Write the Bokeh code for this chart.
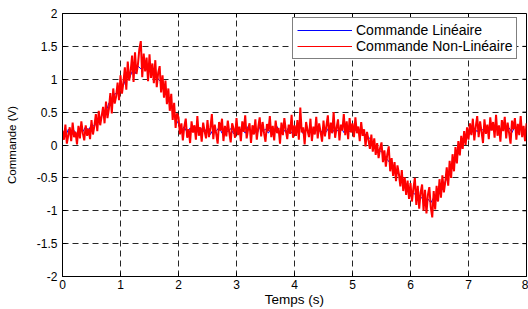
import numpy as np
from bokeh.plotting import figure
from bokeh.models import Range1d, FixedTicker, Legend, LegendItem
from bokeh.embed import file_html
from bokeh.resources import INLINE

# ---- data ----
x_ticks = [0, 1, 2, 3, 4, 5, 6, 7, 8]
y_ticks = [-2, -1.5, -1, -0.5, 0, 0.5, 1, 1.5, 2]
y_tick_labels = {-2: "-2", -1.5: "-1.5", -1: "-1", -0.5: "-0.5", 0: "0",
                 0.5: "0.5", 1: "1", 1.5: "1.5", 2: "2"}

# Commande Non-Linéaire (red), sampled every 0.025 s from 0 to 8 s
red_values = [
    0.22, 0.08, 0.31, 0.02, 0.15, 0.27, 0.06, 0.34, 0.12, 0.20, 0.01, 0.29, 0.10, 0.36, 0.18, 0.07, 0.30, 0.14, 0.25, 0.09,
    0.38, 0.16, 0.29, 0.47, 0.21, 0.52, 0.30, 0.44, 0.58, 0.33, 0.66, 0.41, 0.55, 0.79, 0.48, 0.86, 0.63, 0.74, 0.95, 0.68,
    1.06, 0.78, 0.95, 1.18, 0.84, 1.27, 0.98, 1.12, 1.36, 0.96, 1.41, 1.08, 1.22, 1.46, 1.58, 1.03, 1.39, 1.12, 1.33, 0.97,
    1.38, 1.02, 1.24, 0.94, 1.29, 0.88, 1.10, 1.20, 0.80, 1.06, 0.72, 0.98, 0.62, 0.86, 0.52, 0.78, 0.38, 0.64, 0.26, 0.48,
    0.42, 0.16, 0.33, 0.07, 0.28, 0.40, 0.11, 0.24, 0.03, 0.36, 0.19, 0.30, 0.08, 0.44, 0.14, 0.27, 0.05, 0.34, 0.21, 0.10,
    0.38, 0.12, 0.26, 0.47, 0.09, 0.31, 0.17, 0.02, 0.35, 0.22, 0.40, 0.06, 0.29, 0.13, 0.37, 0.19, 0.04, 0.33, 0.25, 0.11,
    0.41, 0.15, 0.28, 0.06, 0.36, 0.20, 0.45, 0.10, 0.24, 0.33, 0.03, 0.30, 0.16, 0.39, 0.08, 0.27, 0.42, 0.13, 0.35, 0.18,
    0.05, 0.32, 0.21, 0.44, 0.12, 0.29, 0.07, 0.37, 0.18, 0.26, 0.02, 0.34, 0.15, 0.41, 0.23, 0.09, 0.31, 0.17, 0.46, 0.11,
    0.30, 0.14, 0.38, 0.08, 0.57, 0.19, 0.27, 0.01, 0.35, 0.22, 0.12, 0.40, 0.06, 0.28, 0.16, 0.43, 0.10, 0.33, 0.20, 0.05,
    0.37, 0.13, 0.29, 0.45, 0.09, 0.34, 0.18, 0.50, 0.11, 0.26, 0.39, 0.07, 0.31, 0.22, 0.47, 0.15, 0.36, 0.09, 0.41, 0.19,
    0.33, 0.12, 0.42, 0.18, 0.28, 0.06, 0.35, 0.14, 0.24, -0.02, 0.20, 0.08, -0.06, 0.16, -0.10, 0.10, -0.15, 0.03, -0.20, -0.05,
    0.04, -0.26, -0.08, -0.33, -0.14, -0.02, -0.40, -0.20, -0.47, -0.26, -0.55, -0.31, -0.44, -0.63, -0.38, -0.70, -0.49, -0.76, -0.54, -0.82,
    -0.58, -0.86, -0.66, -0.50, -0.91, -0.62, -0.97, -0.72, -0.60, -1.00, -0.68, -1.04, -0.76, -0.64, -0.95, -1.10, -0.70, -0.98, -0.62, -0.86,
    -0.52, -0.80, -0.46, -0.72, -0.56, -0.34, -0.62, -0.24, -0.50, -0.14, -0.40, -0.03, -0.28, 0.06, -0.16, 0.14, -0.06, 0.21, 0.00, 0.27,
    0.08, 0.33, 0.15, 0.40, 0.07, 0.28, 0.44, 0.12, 0.36, 0.20, 0.03, 0.39, 0.17, 0.31, 0.09, 0.42, 0.22, 0.35, 0.11, 0.46,
    0.14, 0.30, 0.05, 0.38, 0.21, 0.43, 0.10, 0.34, 0.18, 0.02, 0.37, 0.24, 0.41, 0.08, 0.32, 0.15, 0.44, 0.12, 0.29, 0.06,
    0.33,
]

# Commande Linéaire (blue), sampled every 0.05 s from 0 to 8 s
blue_values = [
    0.20, 0.12, 0.24, 0.14, 0.22, 0.16, 0.26, 0.20, 0.28, 0.22, 0.32, 0.28, 0.40, 0.38, 0.52, 0.50, 0.64, 0.64, 0.78, 0.78,
    0.92, 0.90, 1.04, 1.00, 1.12, 1.08, 1.20, 1.16, 1.24, 1.20, 1.22, 1.12, 1.12, 1.00, 0.96, 0.84, 0.76, 0.62, 0.55, 0.40,
    0.32, 0.22, 0.28, 0.18, 0.26, 0.20, 0.27, 0.17, 0.25, 0.19, 0.28, 0.16, 0.24, 0.21, 0.27, 0.18, 0.26, 0.20, 0.25, 0.17,
    0.27, 0.19, 0.24, 0.18, 0.28, 0.20, 0.25, 0.16, 0.27, 0.21, 0.24, 0.18, 0.26, 0.20, 0.28, 0.17, 0.25, 0.19, 0.27, 0.18,
    0.24, 0.20, 0.28, 0.17, 0.26, 0.21, 0.25, 0.18, 0.27, 0.19, 0.24, 0.20, 0.28, 0.18, 0.26, 0.21, 0.27, 0.19, 0.28, 0.20,
    0.26, 0.22, 0.24, 0.20, 0.18, 0.14, 0.10, 0.04, -0.02, -0.08, -0.10, -0.16, -0.22, -0.28, -0.34, -0.40, -0.46, -0.52, -0.56, -0.62,
    -0.68, -0.74, -0.75, -0.82, -0.80, -0.86, -0.82, -0.88, -0.80, -0.84, -0.72, -0.68, -0.55, -0.50, -0.36, -0.30, -0.16, -0.10, 0.02, 0.06,
    0.16, 0.18, 0.26, 0.20, 0.28, 0.22, 0.26, 0.19, 0.28, 0.21, 0.25, 0.20, 0.27, 0.22, 0.26, 0.19, 0.28, 0.21, 0.25, 0.20,
    0.24,
]

t_start, t_end = 0, 8
red_t = np.linspace(t_start, t_end, len(red_values))
blue_t = np.linspace(t_start, t_end, len(blue_values))

FONT = "Liberation Sans"

p = figure(width=528, height=309, output_backend="svg", toolbar_location=None,
           x_range=Range1d(0, 8), y_range=Range1d(-2, 2),
           min_border_left=62, min_border_right=2, min_border_top=13, min_border_bottom=32)

p.background_fill_color = "white"
p.border_fill_color = "white"
p.outline_line_color = "black"
p.outline_line_width = 1

# grid
for g in (p.xgrid[0], p.ygrid[0]):
    g.grid_line_color = "black"
    g.grid_line_dash = "6 4"
    g.grid_line_width = 1
    g.grid_line_alpha = 0.85

p.line(blue_t, blue_values, line_color="#0000FF", line_width=1)
p.line(red_t, red_values, line_color="#FF0000", line_width=2)

# mirror ticks on the top and right edges of the box (inward)
p.ray(x=x_ticks, y=[2] * len(x_ticks), length=4, length_units="screen",
      angle=-np.pi / 2, line_color="black", line_width=1)
p.ray(x=[8] * len(y_ticks), y=y_ticks, length=4, length_units="screen",
      angle=np.pi, line_color="black", line_width=1)

# axes
p.xaxis.ticker = FixedTicker(ticks=x_ticks)
p.yaxis.ticker = FixedTicker(ticks=y_ticks)
p.yaxis.major_label_overrides = y_tick_labels
for ax in (p.xaxis[0], p.yaxis[0]):
    ax.axis_line_color = "black"
    ax.major_tick_line_color = "black"
    ax.major_tick_in = 4
    ax.major_tick_out = 0
    ax.minor_tick_line_color = None
    ax.major_label_text_font = FONT
    ax.major_label_text_font_size = "12px"
    ax.major_label_text_color = "black"
    ax.axis_label_text_font = FONT
    ax.axis_label_text_font_style = "normal"
    ax.axis_label_text_color = "black"

p.xaxis.axis_label = "Temps (s)"
p.xaxis.axis_label_text_font_size = "13.5px"
p.xaxis.major_label_standoff = 3
p.xaxis.axis_label_standoff = 0

p.yaxis.axis_label = "Commande (V)"
p.yaxis.axis_label_text_font_size = "11.5px"
p.yaxis.major_label_standoff = 5
p.yaxis.axis_label_standoff = 16

# legend with thin sample lines (renderers kept outside the visible x range)
leg_x = [-10, -9]
leg_y = [0, 0]
leg_blue = p.line(leg_x, leg_y, line_color="#0000FF", line_width=1)
leg_red = p.line(leg_x, leg_y, line_color="#FF0000", line_width=1)
legend = Legend(items=[LegendItem(label="Commande Linéaire", renderers=[leg_blue]),
                       LegendItem(label="Commande Non-Linéaire", renderers=[leg_red])],
                location=(230, 217))
legend.label_text_font = FONT
legend.label_text_font_size = "14px"
legend.label_text_color = "black"
legend.glyph_width = 55
legend.glyph_height = 16
legend.label_height = 16
legend.label_standoff = 4
legend.spacing = 0
legend.padding = 4
legend.margin = 0
legend.border_line_color = "black"
legend.border_line_width = 1
legend.background_fill_color = "white"
legend.background_fill_alpha = 1
p.add_layout(legend)

open("out.html", "w").write(file_html(p, INLINE))
